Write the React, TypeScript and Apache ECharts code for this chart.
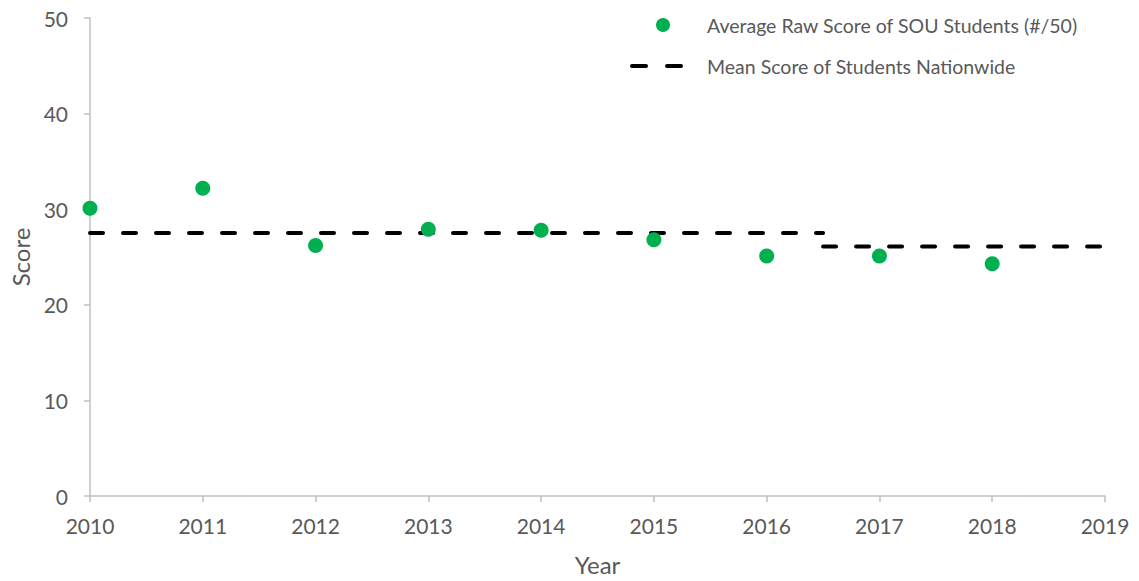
import React, { useEffect, useRef } from "react";
import * as echarts from "echarts";

const years = [2010, 2011, 2012, 2013, 2014, 2015, 2016, 2017, 2018];
const souScores = [30.1, 32.2, 26.2, 27.9, 27.8, 26.8, 25.1, 25.1, 24.3];
const nationStartX = [2010, 2016.5];
const nationEndX = [2016.5, 2019];
const nationMeans = [27.5, 26.1];
const seriesNames = ["Average Raw Score of SOU Students (#/50)", "Mean Score of Students Nationwide"];

const FONT = "Lato";
const TXT = "#595959";
const GREEN = "#00B050";

export default function App() {
  const ref = useRef<HTMLDivElement>(null);
  useEffect(() => {
    if (!ref.current) return;
    const chart = echarts.init(ref.current, null, { renderer: "svg" });
    const nationSeries = nationMeans.map((v, i) => ({
      name: seriesNames[1],
      type: "line",
      data: [
        [nationStartX[i], v],
        [nationEndX[i], v],
      ],
      symbol: "none",
      z: 2,
      lineStyle: { color: "#000", width: 4, type: [13, 20], cap: "round" },
    }));
    chart.setOption({
      animation: false,
      textStyle: { fontFamily: FONT },
      grid: { left: 90, right: 34, top: 18, bottom: 85 },
      xAxis: {
        type: "value",
        min: 2010,
        max: 2019,
        interval: 1,
        name: "Year",
        nameLocation: "middle",
        nameGap: 56,
        nameTextStyle: { fontSize: 24, color: TXT, fontFamily: FONT },
        axisLine: { lineStyle: { color: "#BFBFBF", width: 1.5 } },
        axisTick: { show: true, length: 6, lineStyle: { color: "#BFBFBF", width: 1.5 } },
        axisLabel: { fontSize: 21, color: TXT, margin: 19, fontFamily: FONT, formatter: (v: number) => String(v) },
        splitLine: { show: false },
      },
      yAxis: {
        type: "value",
        min: 0,
        max: 50,
        interval: 10,
        name: "Score",
        nameLocation: "middle",
        nameGap: 57,
        nameTextStyle: { fontSize: 24, color: TXT, fontFamily: FONT },
        axisLine: { show: true, lineStyle: { color: "#BFBFBF", width: 1.5 } },
        axisTick: { show: true, length: 6, lineStyle: { color: "#BFBFBF", width: 1.5 } },
        axisLabel: { fontSize: 21, color: TXT, margin: 22, fontFamily: FONT },
        splitLine: { show: false },
      },
      graphic: [
        { type: "circle", shape: { cx: 663, cy: 25, r: 7 }, style: { fill: GREEN } },
        {
          type: "text",
          x: 707,
          y: 25,
          style: { text: seriesNames[0], fontSize: 19.5, fill: TXT, fontFamily: FONT, verticalAlign: "middle" },
        },
        { type: "line", shape: { x1: 632, y1: 66, x2: 646, y2: 66 }, style: { stroke: "#000", lineWidth: 4, lineCap: "round" } },
        { type: "line", shape: { x1: 667, y1: 66, x2: 681, y2: 66 }, style: { stroke: "#000", lineWidth: 4, lineCap: "round" } },
        {
          type: "text",
          x: 707,
          y: 66,
          style: { text: seriesNames[1], fontSize: 19.5, fill: TXT, fontFamily: FONT, verticalAlign: "middle" },
        },
      ],
      series: [
        ...nationSeries,
        {
          name: seriesNames[0],
          type: "scatter",
          data: years.map((y, i) => [y, souScores[i]]),
          symbol: "circle",
          symbolSize: 15,
          itemStyle: { color: GREEN, opacity: 1 },
          z: 3,
        },
      ],
    });
    return () => chart.dispose();
  }, []);
  return <div ref={ref} style={{ width: 1139, height: 581, position: "absolute", left: 0, top: 0 }} />;
}
